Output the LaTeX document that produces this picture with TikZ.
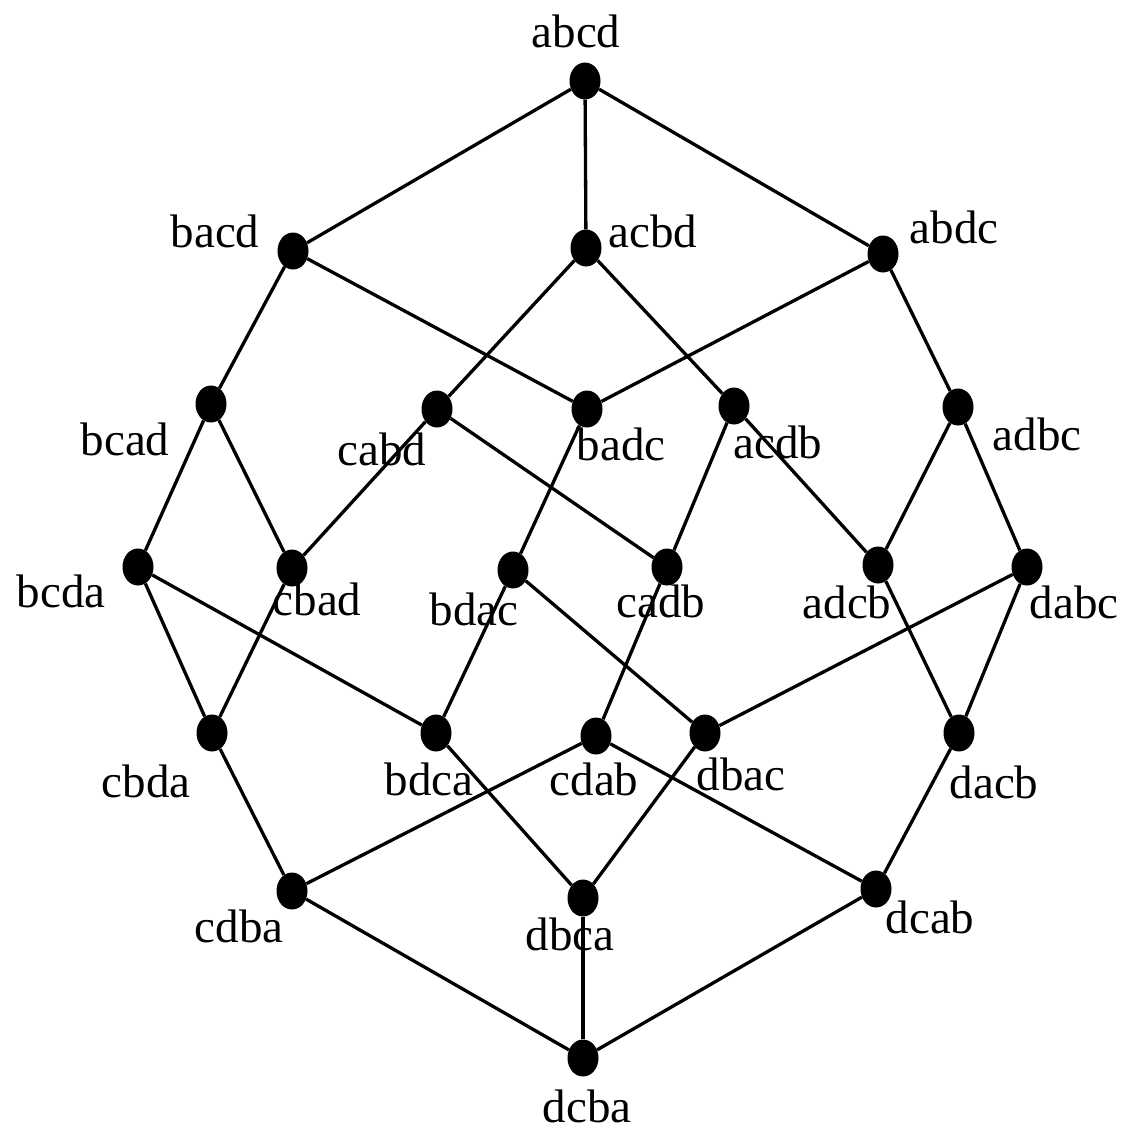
\documentclass[tikz,border=0pt]{standalone}
\usepackage{fontspec}
\setmainfont{Liberation Serif}
\usetikzlibrary{shapes.geometric}

\begin{document}
\begin{tikzpicture}[x=1pt,y=-1pt,
  dot/.style={ellipse,fill=black,draw=none,inner sep=0pt,
              minimum width=31pt,minimum height=37pt},
  lbl/.style={anchor=base,inner sep=0pt,font=\fontsize{47}{50}\selectfont},
  edge/.style={draw=black,line width=3.3pt}]
\useasboundingbox (0,0) rectangle (1126,1130);

% vertices
\node[dot] (abcd) at (585,81) {};
\node[dot] (bacd) at (293,251) {};
\node[dot] (acbd) at (586,248) {};
\node[dot] (abdc) at (883,254) {};
\node[dot] (bcad) at (211,404) {};
\node[dot] (cabd) at (437,409) {};
\node[dot] (badc) at (587,409) {};
\node[dot] (acdb) at (734,406) {};
\node[dot] (adbc) at (958,407) {};
\node[dot] (bcda) at (138,567) {};
\node[dot] (cbad) at (292,568) {};
\node[dot] (bdac) at (513,570) {};
\node[dot] (cadb) at (667,567) {};
\node[dot] (adcb) at (878,565) {};
\node[dot] (dabc) at (1027,567) {};
\node[dot] (cbda) at (212,733) {};
\node[dot] (bdca) at (436,733) {};
\node[dot] (cdab) at (596,736) {};
\node[dot] (dbac) at (705,733) {};
\node[dot] (dacb) at (959,733) {};
\node[dot] (cdba) at (292,891) {};
\node[dot] (dbca) at (583,898) {};
\node[dot] (dcab) at (876,889) {};
\node[dot] (dcba) at (583,1058) {};

% names
\node[lbl] (abcd-l) at (576,47) {abcd};
\node[lbl] (bacd-l) at (215,247) {bacd};
\node[lbl] (acbd-l) at (653,247) {acbd};
\node[lbl] (abdc-l) at (954,243) {abdc};
\node[lbl] (bcad-l) at (125,455) {bcad};
\node[lbl] (cabd-l) at (382,465) {cabd};
\node[lbl] (badc-l) at (621,460) {badc};
\node[lbl] (acdb-l) at (778,458) {acdb};
\node[lbl] (adbc-l) at (1037,450) {adbc};
\node[lbl] (bcda-l) at (61,607) {bcda};
\node[lbl] (cbad-l) at (317,615) {cbad};
\node[lbl] (bdac-l) at (474,625) {bdac};
\node[lbl] (cadb-l) at (661,617) {cadb};
\node[lbl] (adcb-l) at (847,618) {adcb};
\node[lbl] (dabc-l) at (1074,618) {dabc};
\node[lbl] (cbda-l) at (146,797) {cbda};
\node[lbl] (bdca-l) at (429,795) {bdca};
\node[lbl] (cdab-l) at (594,795) {cdab};
\node[lbl] (dbac-l) at (741,790) {dbac};
\node[lbl] (dacb-l) at (994,798) {dacb};
\node[lbl] (cdba-l) at (239,942) {cdba};
\node[lbl] (dbca-l) at (570,950) {dbca};
\node[lbl] (dcab-l) at (930,933) {dcab};
\node[lbl] (dcba-l) at (587,1122) {dcba};

% adjacent transpositions
\draw[edge] (abcd) -- (bacd);
\draw[edge] (abcd) -- (acbd);
\draw[edge] (abcd) -- (abdc);
\draw[edge] (bacd) -- (bcad);
\draw[edge] (bacd) -- (badc);
\draw[edge] (acbd) -- (cabd);
\draw[edge] (acbd) -- (acdb);
\draw[edge] (abdc) -- (badc);
\draw[edge] (abdc) -- (adbc);
\draw[edge] (bcad) -- (bcda);
\draw[edge] (bcad) -- (cbad);
\draw[edge] (cabd) -- (cbad);
\draw[edge] (cabd) -- (cadb);
\draw[edge] (badc) -- (bdac);
\draw[edge] (acdb) -- (cadb);
\draw[edge] (acdb) -- (adcb);
\draw[edge] (adbc) -- (adcb);
\draw[edge] (adbc) -- (dabc);
\draw[edge] (bcda) -- (bdca);
\draw[edge] (bcda) -- (cbda);
\draw[edge] (cbad) -- (cbda);
\draw[edge] (bdac) -- (bdca);
\draw[edge] (bdac) -- (dbac);
\draw[edge] (cadb) -- (cdab);
\draw[edge] (adcb) -- (dacb);
\draw[edge] (dabc) -- (dacb);
\draw[edge] (dabc) -- (dbac);
\draw[edge] (cbda) -- (cdba);
\draw[edge] (bdca) -- (dbca);
\draw[edge] (cdab) -- (cdba);
\draw[edge] (cdab) -- (dcab);
\draw[edge] (dbac) -- (dbca);
\draw[edge] (dacb) -- (dcab);
\draw[edge] (cdba) -- (dcba);
\draw[edge] (dbca) -- (dcba);
\draw[edge] (dcab) -- (dcba);
\end{tikzpicture}
\end{document}
